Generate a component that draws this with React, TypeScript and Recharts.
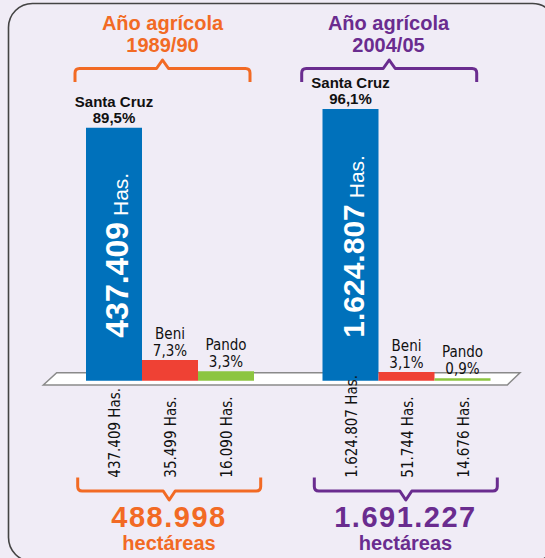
import React from 'react';
import { BarChart, Bar, XAxis, YAxis, LabelList } from 'recharts';

const years = ['1989/90', '2004/05'];
const santaCruzPct = [89.5, 96.1];
const beniPct = [7.3, 3.1];
const pandoPct = [3.3, 0.9];
const santaCruzHas = [437409, 1624807];
const beniHas = [35499, 51744];
const pandoHas = [16090, 14676];
const totalHas = [488998, 1691227];

const FONT = '"Liberation Sans", Arial, sans-serif';
const NARROW = '"Liberation Sans Narrow", "DejaVu Sans Condensed", "Arial Narrow", sans-serif';
const BG = '#F0ECF6';
const ORANGE = '#F26A24';
const PURPLE = '#6A2C8F';
const yearColors = [ORANGE, PURPLE];

const data = years.map((year, i) => ({
  year,
  sc: santaCruzPct[i],
  beni: beniPct[i],
  pando: pandoPct[i],
  scHas: santaCruzHas[i],
  beniHas: beniHas[i],
  pandoHas: pandoHas[i],
}));

// 437409 -> "437.409"
const fmtHas = (n: number) => String(n).replace(/\B(?=(\d{3})+(?!\d))/g, '.');
const fmtPct = (v: number) => v.toFixed(1).replace('.', ',') + '%';

const box = (p: any) => {
  const vb = p.viewBox || {};
  return {
    x: p.x ?? vb.x,
    y: p.y ?? vb.y,
    width: p.width ?? vb.width,
    height: p.height ?? vb.height,
  };
};

// name + percentage above the bar
const topLabel = (name: string, big: boolean) => (p: any) => {
  const { x, y, width } = box(p);
  const cx = x + width / 2;
  return (
    <text
      textAnchor="middle"
      fontFamily={big ? FONT : NARROW}
      fontSize={big ? 15 : 15}
      fontWeight={big ? 'bold' : 'normal'}
      fill="#111"
    >
      <tspan x={cx} y={y - 21}>{name}</tspan>
      <tspan x={cx} y={big ? y - 5 : y - 4}>{fmtPct(Number(p.value))}</tspan>
    </text>
  );
};

// big rotated hectares inside the Santa Cruz bar
const insideLabel = (p: any) => {
  const { x, y, width, height } = box(p);
  const bx = x + width - 14;
  const by = y + height - 43;
  const txt = fmtHas(Number(p.value));
  return (
    <text
      x={bx}
      y={by}
      transform={`rotate(-90, ${bx}, ${by})`}
      fontFamily={FONT}
      fill="#fff"
    >
      <tspan fontSize={txt.length > 7 ? 30 : 32} fontWeight="bold">{txt}</tspan>
      <tspan fontSize={21} dx={6}>Has.</tspan>
    </text>
  );
};

// rotated hectares under the floor
const bottomLabel = (p: any) => {
  const { x, y, width, height } = box(p);
  const bx = x + width / 2 + 6.5;
  const by = y + height + 97;
  return (
    <text
      x={bx}
      y={by}
      transform={`rotate(-90, ${bx}, ${by})`}
      fontFamily={NARROW}
      fontSize={15}
      fill="#111"
    >
      {fmtHas(Number(p.value)) + ' Has.'}
    </text>
  );
};

const topBracket = (l: number, r: number, c: number) =>
  `M${l},82 L${l},73 Q${l},68.5 ${l + 4.5},68.5 L${c - 6},68.5 L${c},60 L${c + 6},68.5 L${r - 4.5},68.5 Q${r},68.5 ${r},73 L${r},82`;
const bottomBracket = (l: number, r: number, c: number) =>
  `M${l},477.5 L${l},486.5 Q${l},491 ${l + 4.5},491 L${c - 6},491 L${c},500 L${c + 6},491 L${r - 4.5},491 Q${r},491 ${r},486.5 L${r},477.5`;

const titleX = [162.5, 388.5];
const topBr = [[75, 250], [301.7, 476.7]];
const totalX = [169, 405.5];
const botBr = [[77.7, 260.7], [314.3, 497.3]];

export default function App() {
  return (
    <div style={{ position: 'absolute', left: 0, top: 0, width: 545, height: 558, background: BG, overflow: 'hidden' }}>
      <svg width={545} height={558} style={{ position: 'absolute', left: 0, top: 0 }}>
        <rect x={8.5} y={3.5} width={548} height={558} rx={24} fill={BG} stroke="#444" strokeWidth={1.6} />
        <polygon points="43.3,385 56.7,372.7 520,372.7 507.3,385" fill="#fff" stroke="#8a8a8a" strokeWidth={1.5} />
        {years.map((yr, i) => (
          <g key={yr} fontFamily={FONT} fontWeight="bold" textAnchor="middle" fill={yearColors[i]}>
            <text x={titleX[i]} y={29.5} fontSize={20}>Año agrícola</text>
            <text x={titleX[i]} y={51.5} fontSize={20}>{yr}</text>
            <path d={topBracket(topBr[i][0], topBr[i][1], (topBr[i][0] + topBr[i][1]) / 2)} fill="none" stroke={yearColors[i]} strokeWidth={3} strokeLinejoin="round" />
            <path d={bottomBracket(botBr[i][0], botBr[i][1], (botBr[i][0] + botBr[i][1]) / 2)} fill="none" stroke={yearColors[i]} strokeWidth={3} strokeLinejoin="round" />
            <text x={totalX[i]} y={527} fontSize={29} letterSpacing={1.5}>{fmtHas(totalHas[i])}</text>
            <text x={totalX[i]} y={549.5} fontSize={20}>hectáreas</text>
          </g>
        ))}
      </svg>
      <div style={{ position: 'absolute', left: 0, top: 0 }}>
        <BarChart
          width={545}
          height={558}
          data={data}
          margin={{ top: 98, right: 20, bottom: 177.3, left: 52 }}
          barGap={0}
          barSize={56}
        >
          <XAxis dataKey="year" hide />
          <YAxis hide domain={[0, 100]} />
          <Bar dataKey="sc" name="Santa Cruz" fill="#0071BB" isAnimationActive={false}>
            <LabelList dataKey="sc" content={topLabel('Santa Cruz', true)} />
            <LabelList dataKey="scHas" content={insideLabel} />
            <LabelList dataKey="scHas" content={bottomLabel} />
          </Bar>
          <Bar dataKey="beni" name="Beni" fill="#EF4134" isAnimationActive={false}>
            <LabelList dataKey="beni" content={topLabel('Beni', false)} />
            <LabelList dataKey="beniHas" content={bottomLabel} />
          </Bar>
          <Bar dataKey="pando" name="Pando" fill="#8CC540" isAnimationActive={false}>
            <LabelList dataKey="pando" content={topLabel('Pando', false)} />
            <LabelList dataKey="pandoHas" content={bottomLabel} />
          </Bar>
        </BarChart>
      </div>
    </div>
  );
}
